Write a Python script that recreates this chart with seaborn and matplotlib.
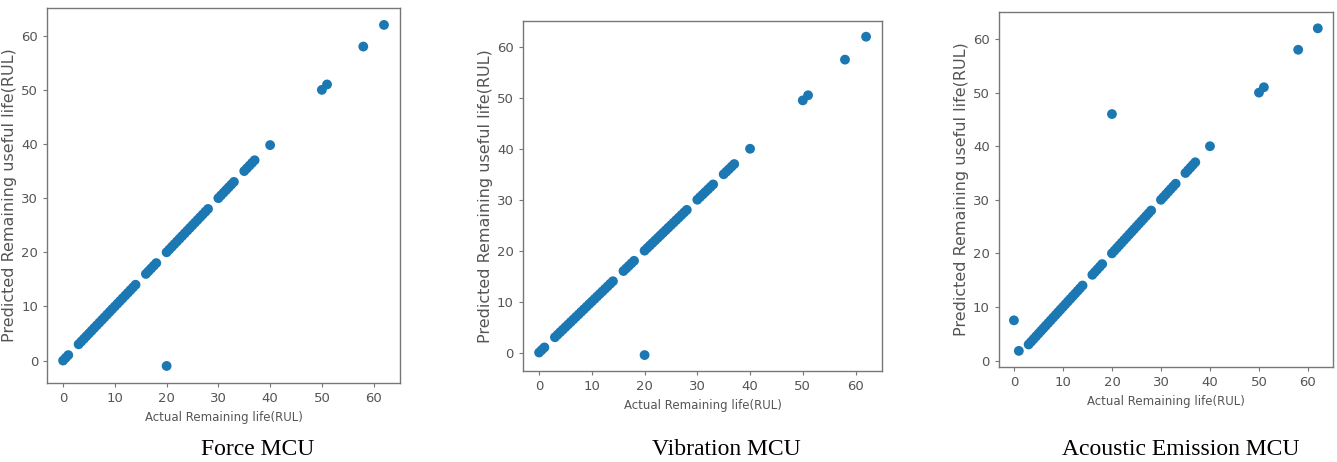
"""
Actual vs predicted RUL for three monitoring channels (MCU)
"""
import matplotlib
matplotlib.use("Agg")
import matplotlib.pyplot as plt
import seaborn as sns
import pandas as pd

# --- data ---
# test samples lying on the diagonal (actual RUL values)
diag_points = [0, 0.5, 1,
               3, 3.5, 4, 4.5, 5, 5.5, 6, 6.5, 7, 7.5, 8, 8.5, 9, 9.5, 10,
               10.5, 11, 11.5, 12, 12.5, 13, 13.5, 14,
               16, 16.5, 17, 17.5, 18,
               20, 20.5, 21, 21.5, 22, 22.5, 23, 23.5, 24, 24.5, 25, 25.5,
               26, 26.5, 27, 27.5, 28,
               30, 30.5, 31, 31.5, 32, 32.5, 33,
               35, 35.5, 36, 36.5, 37,
               40, 50, 51, 58, 62]

# Force MCU: same as diagonal except a few, plus one outlier at x=20
force_actual = diag_points + [20]
force_pred = diag_points[:60] + [39.8, 50, 51, 58, 62] + [-1]

# Vibration MCU
vib_actual = diag_points + [20]
vib_pred = diag_points[:60] + [40, 49.5, 50.5, 57.5, 62] + [-0.5]

# Acoustic Emission MCU: no (0,0) and (0.5,0.5); (0 -> 7.5), (1 -> 1.8), outlier (20 -> 46)
ae_actual = [0, 1] + diag_points[3:] + [20]
ae_pred = [7.5, 1.8] + diag_points[3:] + [46]

captions = ["Force MCU", "Vibration MCU", "Acoustic Emission MCU"]

sns.set_style("ticks", {"axes.edgecolor": "#777777",
                        "xtick.color": "#777777", "ytick.color": "#777777"})
plt.rcParams["font.family"] = ["DejaVu Sans"]

fig = plt.figure(figsize=(13.37, 4.62), dpi=100)

boxes = [
    [0.0352, 0.171, 0.264, 0.812],
    [0.391, 0.197, 0.269, 0.758],
    [0.747, 0.2056, 0.250, 0.768],
]
caption_pos = [(0.193, 0.004), (0.543, 0.004), (0.883, 0.004)]

series = [(force_actual, force_pred), (vib_actual, vib_pred), (ae_actual, ae_pred)]

for box, (act, pred), cap, cpos in zip(boxes, series, captions, caption_pos):
    ax = fig.add_axes(box)
    df = pd.DataFrame({"actual": act, "predicted": pred})
    sns.scatterplot(data=df, x="actual", y="predicted", ax=ax,
                    color="#1b78b2", s=50, edgecolor="none")
    ax.set_xticks([0, 10, 20, 30, 40, 50, 60])
    ax.set_yticks([0, 10, 20, 30, 40, 50, 60])
    ax.tick_params(labelsize=9.5, labelcolor="#555555", length=3)
    ax.set_xlabel("Actual Remaining life(RUL)", fontsize=8.5, color="#555555")
    ax.set_ylabel("Predicted Remaining useful life(RUL)", fontsize=11.5,
                  color="#555555", labelpad=3)
    for sp in ax.spines.values():
        sp.set_visible(True)
        sp.set_linewidth(1.0)
    fig.text(cpos[0], cpos[1], cap, ha="center", va="bottom",
             fontsize=17, family="Liberation Serif", color="black")

fig.savefig("out.png", dpi=100)
